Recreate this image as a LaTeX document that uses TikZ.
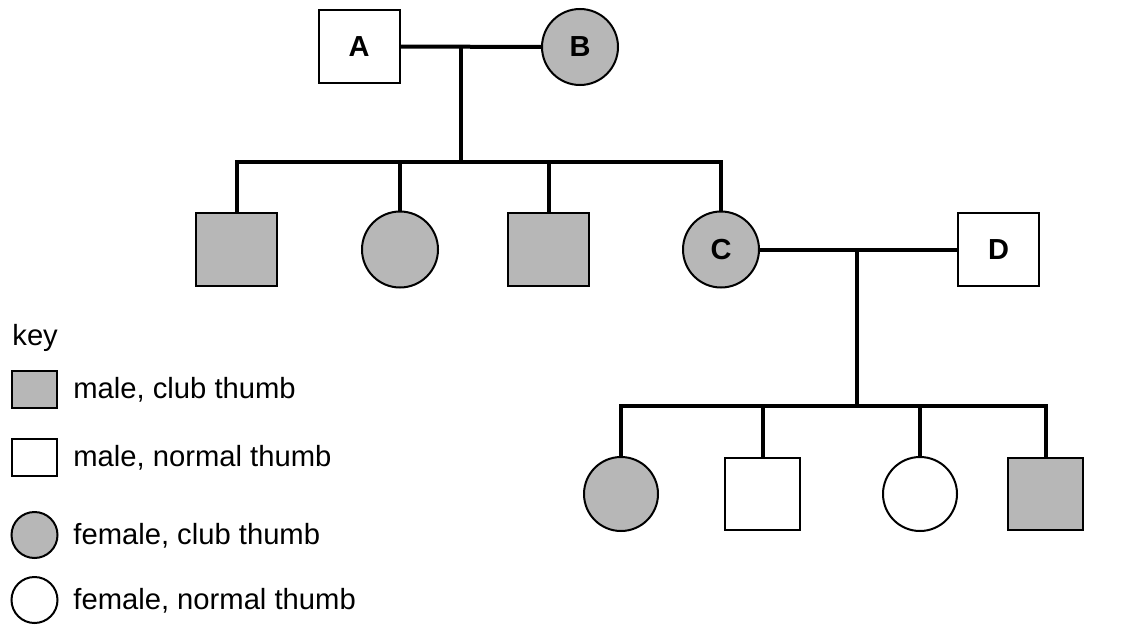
\documentclass[tikz,border=0pt]{standalone}
\usepackage{fontspec}
\setmainfont{Liberation Sans}
\usepackage{tikz}
\usetikzlibrary{positioning,calc}
\definecolor{clubGrey}{RGB}{183,183,183}
\tikzset{
  maleBox/.style={
    rectangle,
    draw=black,
    line width=1pt,
    fill=white,
    minimum width=40.5pt,
    minimum height=36.5pt,
    inner sep=0pt,
    font=\fontsize{14.5}{17}\selectfont\bfseries
  },
  femaleBox/.style={
    circle,
    draw=black,
    line width=1pt,
    fill=white,
    minimum size=38pt,
    inner sep=0pt,
    font=\fontsize{14.5}{17}\selectfont\bfseries
  },
  club/.style={fill=clubGrey},
  familyLine/.style={
    line width=2pt,
    line join=miter
  },
  keyMale/.style={
    rectangle,
    draw=black,
    line width=1pt,
    minimum width=22.5pt,
    minimum height=18.5pt,
    inner sep=0pt
  },
  keyFemale/.style={
    circle,
    draw=black,
    line width=1pt,
    minimum size=23pt,
    inner sep=0pt
  },
  keyText/.style={
    anchor=base west,
    inner sep=0pt,
    font=\fontsize{14.6}{17}\selectfont
  }
}

\begin{document}
\begin{tikzpicture}[x=0.5pt,y=-0.5pt]
        \useasboundingbox (0,0) rectangle (1129,631);

        % first generation
        \node[maleBox] (A) at (359,46.5) {A};
        \node[femaleBox, club] (B) at (580,47) {B};

        % second generation
        \node[maleBox, club] (son1) at (236.5,249.5) {};
        \node[femaleBox, club] (dau1) at (400,249.5) {};
        \node[maleBox, club] (son2) at (548.5,249.5) {};
        \node[femaleBox, club] (C) at (721,249.5) {C};
        \node[maleBox] (D) at (998.5,249.5) {D};

        % third generation
        \node[femaleBox, club, minimum size=37pt] (gdau1) at (621,494) {};
        \node[maleBox, minimum width=37.5pt, minimum height=36pt] (gson1) at (762.5,494) {};
        \node[femaleBox, minimum size=37pt] (gdau2) at (920,494) {};
        \node[maleBox, club, minimum width=37.5pt, minimum height=36pt] (gson2) at (1045.5,494) {};

        \coordinate (ab) at (461,47);
        \coordinate (abKids) at (461,162);
        \coordinate (cd) at (857,249.5);
        \coordinate (cdKids) at (857,406);

        \draw[familyLine] (A) -- (B);
        \draw[familyLine] (ab) -- (abKids);
        \draw[familyLine] (son1.north) |- (abKids) -| (C.north);
        \draw[familyLine] (dau1.north) -- (dau1.north |- abKids);
        \draw[familyLine] (son2.north) -- (son2.north |- abKids);

        \draw[familyLine] (C) -- (D);
        \draw[familyLine] (cd) -- (cdKids);
        \draw[familyLine] (gdau1.north) |- (cdKids) -| (gson2.north);
        \draw[familyLine] (gson1.north) -- (gson1.north |- cdKids);
        \draw[familyLine] (gdau2.north) -- (gdau2.north |- cdKids);

        % key
        \node[keyText] (keyTitle) at (12,345) {key};
        \node[keyMale, club] (kMaleClub) at (34.5,389.5) {};
        \node[keyMale] (kMaleNorm) at (34.5,457) {};
        \node[keyFemale, club] (kFemClub) at (34.5,535) {};
        \node[keyFemale] (kFemNorm) at (34.5,600) {};
        \node[keyText] (tMaleClub) at (73,398) {male, club thumb};
        \node[keyText] (tMaleNorm) at (73,466) {male, normal thumb};
        \node[keyText] (tFemClub) at (73,544) {female, club thumb};
        \node[keyText] (tFemNorm) at (73,609) {female, normal thumb};
    \end{tikzpicture}
\end{document}
